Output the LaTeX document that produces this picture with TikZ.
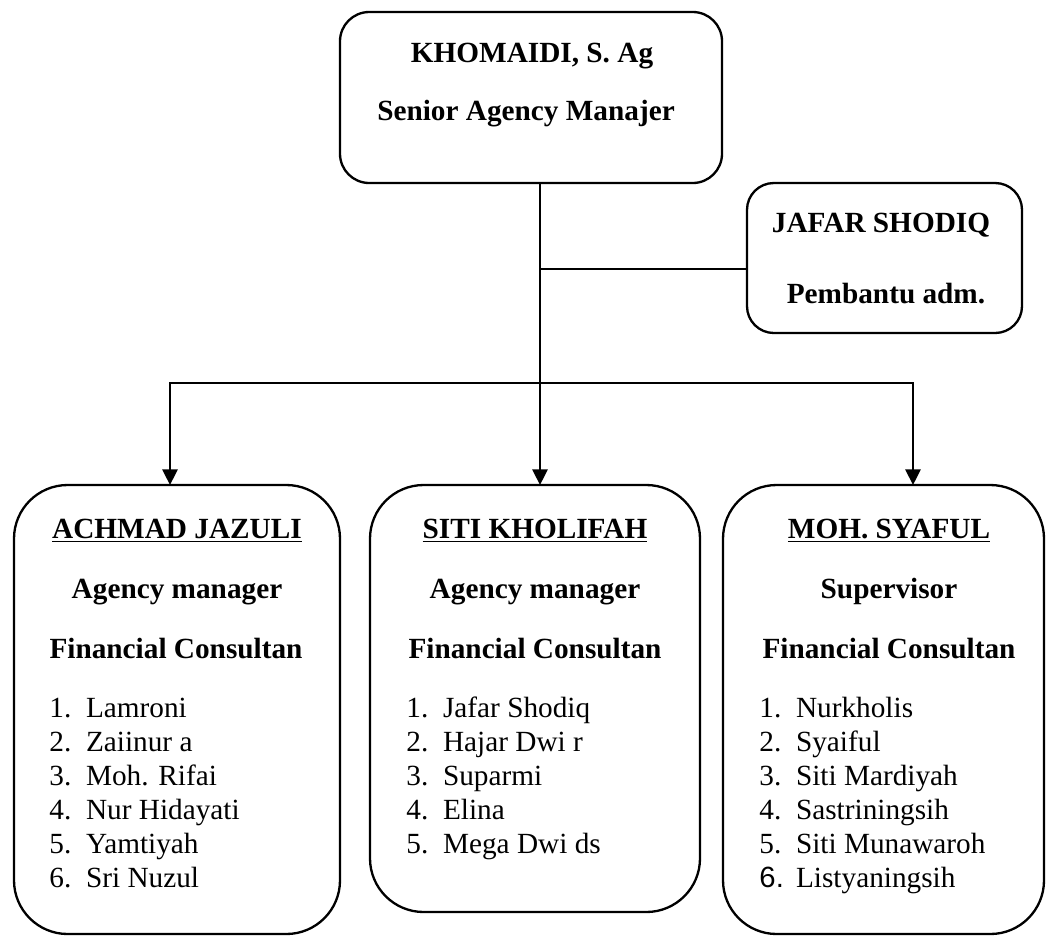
\documentclass[tikz,border=0pt]{standalone}
\usepackage{fontspec}
\setmainfont{Liberation Serif}
\newfontfamily\arialfont{Liberation Sans}
\usetikzlibrary{arrows.meta}
\newcommand\pxu{0.41pt}
\begin{document}
\begin{tikzpicture}[x=0.41pt,y=-0.41pt,
  box/.style={draw=black, line width=0.95pt, inner sep=0pt},
  conn/.style={draw=black, line width=0.9pt},
  arr/.style={conn, -{Triangle[length=6.4pt,width=6.2pt]}},
  txt/.style={inner sep=0pt, anchor=base, font=\fontsize{12pt}{13.8pt}\selectfont\bfseries},
  item/.style={inner sep=0pt, anchor=base west, font=\fontsize{12pt}{13.8pt}\selectfont},
]
\useasboundingbox (0,0) rectangle (1047,937);

% boxes
\node[box, rounded corners=12pt, minimum width={382*\pxu}, minimum height={171*\pxu}] (top) at (531,97.5) {};
\node[box, rounded corners=11pt, minimum width={275*\pxu}, minimum height={150*\pxu}] (admin) at (884.5,258) {};
\node[box, rounded corners=22pt, minimum width={326*\pxu}, minimum height={449*\pxu}] (left) at (177,709.5) {};
\node[box, rounded corners=22pt, minimum width={330*\pxu}, minimum height={427*\pxu}] (mid) at (535,698.5) {};
\node[box, rounded corners=22pt, minimum width={321*\pxu}, minimum height={449*\pxu}] (right) at (883.5,709.5) {};

% connectors
\coordinate (ma) at (540,485);
\coordinate (la) at (170,485);
\coordinate (ra) at (913,485);
\coordinate (br) at (540,383);
\coordinate (ja) at (540,269);
\draw[arr] (top.south -| ma) -- (ma);
\draw[conn] (ja) -- (ja -| admin.west);
\draw[arr] (br) -| (la);
\draw[arr] (br) -| (ra);

% top texts
\node[txt] (t1) at (532,62) {KHOMAIDI, S. Ag};
\node[txt] (t2) at (526,120) {Senior Agency Manajer};
\node[txt] (a1) at (881,232) {JAFAR SHODIQ};
\node[txt] (a2) at (886,303) {Pembantu adm.};

% left box
\node[txt] (l1) at (177,538) {\underline{ACHMAD JAZULI}};
\node[txt] (l2) at (177,598) {Agency manager};
\node[txt] (l3) at (176,658) {Financial Consultan};
\foreach \n [count=\i] in {Lamroni, Zaiinur a, Moh. Rifai, Nur Hidayati, Yamtiyah, Sri Nuzul}
  \node[item] (li\i) at (49,{717+34*(\i-1)}) {\makebox[15pt][l]{\i.}\n};

% middle box
\node[txt] (m1) at (535,538) {\underline{SITI KHOLIFAH}};
\node[txt] (m2) at (535,598) {Agency manager};
\node[txt] (m3) at (535,658) {Financial Consultan};
\foreach \n [count=\i] in {Jafar Shodiq, Hajar Dwi r, Suparmi, Elina, Mega Dwi ds}
  \node[item] (mi\i) at (406,{717+34*(\i-1)}) {\makebox[15pt][l]{\i.}\n};

% right box
\node[txt] (r1) at (889,538) {\underline{MOH. SYAFUL}};
\node[txt] (r2) at (889,598) {Supervisor};
\node[txt] (r3) at (889,658) {Financial Consultan};
\foreach \n [count=\i] in {Nurkholis, Syaiful, Siti Mardiyah, Sastriningsih, Siti Munawaroh}
  \node[item] (ri\i) at (759,{717+34*(\i-1)}) {\makebox[15pt][l]{\i.}\n};
\node[item] (ri6) at (759,{717+34*5}) {\makebox[15pt][l]{\arialfont 6.}Listyaningsih};
\end{tikzpicture}
\end{document}
